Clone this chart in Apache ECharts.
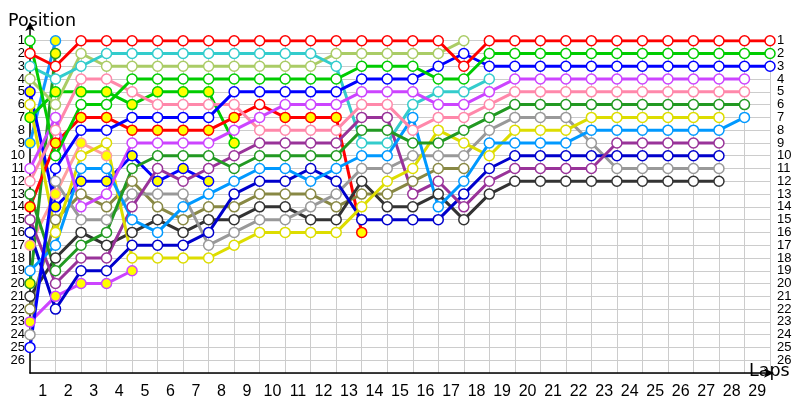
<!DOCTYPE html>
<html><head><meta charset="utf-8">
<script src="https://cdn.jsdelivr.net/npm/echarts@6/dist/echarts.min.js"></script>
<style>html,body{margin:0;padding:0;background:#fff}#c{width:800px;height:400px}</style>
</head><body><div id="c"></div>
<script>
// Tick labels
const lapLabels = ['1','2','3','4','5','6','7','8','9','10','11','12','13','14','15','16','17','18','19','20','21','22','23','24','25','26','27','28','29'];
const positionLabels = [1,2,3,4,5,6,7,8,9,10,11,12,13,14,15,16,17,18,19,20,21,22,23,24,25,26];

// Position per lap (index = lap, starting at lap 0 = grid)
const redA     = [2,3,1,1,1,1,1,1,1,1,1,1,1,1,1,1,1,3,1,1,1,1,1,1,1,1,1,1,1,1];
const greenA   = [1,10,6,6,4,4,4,4,4,4,4,4,4,3,3,3,4,4,2,2,2,2,2,2,2,2,2,2,2,2];
const blueA    = [25,11,8,8,7,7,7,7,5,5,5,5,5,4,4,4,3,2,3,3,3,3,3,3,3,3,3,3,3,3];
const purpleA  = [11,7,14,13,9,9,9,9,8,7,6,6,6,5,5,5,6,6,5,4,4,4,4,4,4,4,4,4,4];
const pinkA    = [12,8,4,4,5,6,6,6,6,8,8,8,8,6,6,8,7,7,6,5,5,5,5,5,5,5,5,5,5];
const dkGreen  = [13,19,17,16,11,10,10,10,11,10,10,10,10,8,8,9,9,8,7,6,6,6,6,6,6,6,6,6,6];
const ltBlueA  = [19,17,11,11,15,16,14,13,12,11,11,12,11,10,10,7,14,12,9,9,9,9,8,8,8,8,8,8,7];
const yellowA  = [6,16,10,9,18,18,18,18,17,16,16,16,16,14,12,11,8,9,10,8,8,8,7,7,7,7,7,7];
const dkPurple = [15,20,18,18,14,11,12,11,10,9,9,9,9,7,7,13,12,14,12,11,11,11,11,9,9,9,9,9];
const dkBlue   = [16,22,19,19,17,17,17,16,13,12,12,11,12,15,15,15,15,13,11,10,10,10,10,10,10,10,10,10];
const greyA    = [24,12,15,15,13,13,13,17,16,15,15,14,13,11,11,10,10,10,8,7,7,7,9,11,11,11,11,11];
const dkGrey   = [21,18,16,17,16,15,16,15,15,14,14,15,15,12,14,14,13,15,13,12,12,12,12,12,12,12,12,12];
const redB     = [14,9,7,7,8,8,8,8,7,6,7,7,7,16];
const greenB   = [7,5,5,5,6,5,5,5,9];
const blueB    = [5,14,12,12,10,12,11,12];
const purpleB  = [23,21,20,20,19];
const cyanA    = [3,4,3,2,2,2,2,2,2,2,2,2,3,9,9,6,5,5,4];
const ltOlive  = [4,6,2,3,3,3,3,3,3,3,3,3,2,2,2,2,2,1];
const oliveA   = [22,15,13,14,12,14,15,14,14,13,13,13,14,13,13,12,11,11];
const ltBlueB  = [9,1];
const dkGreenB = [20,2];
const salmonA  = [17,13,9,10];
const redBWhiteLaps = [9];

const W = '#ffffff', Y = '#ffff00';
const defs = [
  [salmonA,'#ff9f9f',Y],[ltBlueB,'#1199ff',Y],[dkGreenB,'#229922',Y],[purpleB,'#cc44ff',Y],
  [blueB,'#0000ff',Y],[greenB,'#00cc00',Y],[redB,'#ff0000',Y],
  [oliveA,'#888844',W],[ltOlive,'#aacc66',W],[cyanA,'#33cccc',W],
  [dkGrey,'#333333',W],[greyA,'#999999',W],[dkBlue,'#0000cc',W],[dkPurple,'#993399',W],
  [yellowA,'#dddd00',W],[ltBlueA,'#0099ff',W],[dkGreen,'#229922',W],[pinkA,'#ff88aa',W],
  [purpleA,'#cc44ff',W],[blueA,'#0000ff',W],[greenA,'#00cc00',W],[redA,'#ff0000',W]
];

const series = defs.map(([arr,color,fill]) => ({
  type:'line', xAxisIndex:0, yAxisIndex:0,
  data: arr.map((p,i) => {
    const f = (arr===redB && redBWhiteLaps.includes(i)) ? W : fill;
    return {value:[i,p], itemStyle:{color:f, borderColor:color, borderWidth:1.5}};
  }),
  symbol:'circle', symbolSize:10, showAllSymbol:true,
  lineStyle:{color:color, width:3},
  itemStyle:{color:fill, borderColor:color, borderWidth:1.5},
  emphasis:{disabled:true}, silent:true
}));

const FONT = 'Liberation Sans';
const ROW = 12.775;
const yLabel = {show:true, fontFamily:FONT, fontSize:13, lineHeight:11, color:'#000', hideOverlap:false,
  formatter:v => positionLabels.includes(v) ? String(v) : ''};
const option = {
  animation:false,
  backgroundColor:'#ffffff',
  title:[
    {text:'Position', left:3, top:7, textStyle:{fontFamily:'DejaVu Sans', fontSize:17.5, fontWeight:'normal', color:'#000'}},
    {text:'Laps', left:744, top:357, textStyle:{fontFamily:'DejaVu Sans', fontSize:17.5, fontWeight:'normal', color:'#000'}}
  ],
  grid:[
    {left:30, right:30, top:40.7, bottom:27},
    {left:30, right:30, top:24, bottom:27},
    {left:30, right:30, top:40.7-ROW, bottom:27}
  ],
  xAxis:[
    {type:'value', gridIndex:0, min:0, max:29, interval:1, position:'bottom',
     axisLine:{show:true, lineStyle:{color:'#000', width:1.5}, symbol:['none','arrow'], symbolSize:[7,10], symbolOffset:[0,4]},
     axisTick:{show:false}, axisLabel:{show:false},
     splitLine:{show:true, lineStyle:{color:'#cccccc', width:1}}},
    {type:'category', gridIndex:0, data:lapLabels, boundaryGap:true, position:'bottom',
     axisLine:{show:false}, axisTick:{show:false}, splitLine:{show:false},
     axisLabel:{show:true, interval:0, margin:11, fontFamily:FONT, fontSize:16, color:'#000'}},
    {type:'value', gridIndex:1, min:0, max:1, show:false},
    {type:'value', gridIndex:2, min:0, max:1, show:false}
  ],
  yAxis:[
    {type:'value', gridIndex:0, inverse:true, min:1, max:27, interval:1, position:'left',
     axisLine:{show:false}, axisTick:{show:false}, axisLabel:{show:false},
     splitLine:{show:true, lineStyle:{color:'#cccccc', width:1}}},
    {type:'value', gridIndex:1, min:0, max:1, position:'left',
     axisLine:{show:true, lineStyle:{color:'#000', width:1.5}, symbol:['none','arrow'], symbolSize:[7,9], symbolOffset:[0,2]},
     axisTick:{show:false}, axisLabel:{show:false}, splitLine:{show:false}},
    {type:'value', gridIndex:2, inverse:true, min:0, max:27, interval:1, position:'left',
     axisLine:{show:false}, axisTick:{show:false}, splitLine:{show:false},
     axisLabel:Object.assign({margin:5}, yLabel)},
    {type:'value', gridIndex:2, inverse:true, min:0, max:27, interval:1, position:'right',
     axisLine:{show:false}, axisTick:{show:false}, splitLine:{show:false},
     axisLabel:Object.assign({margin:7}, yLabel)}
  ],
  series: series
};
const chart = echarts.init(document.getElementById('c'), null, {renderer:'canvas'});
chart.setOption(option);
</script></body></html>
